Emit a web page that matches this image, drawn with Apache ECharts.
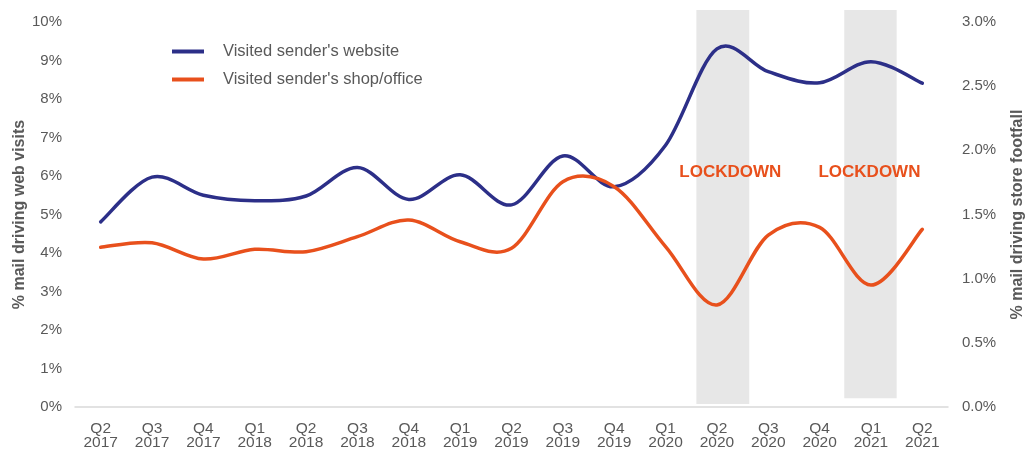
<!DOCTYPE html>
<html>
<head>
<meta charset="utf-8">
<script src="https://cdn.jsdelivr.net/npm/echarts@6/dist/echarts.min.js"></script>
<style>
html,body{margin:0;padding:0;background:#fff;}
#c{width:1027px;height:449px;}
</style>
</head>
<body>
<div id="c"></div>
<script>
const categories = ['Q2\n2017','Q3\n2017','Q4\n2017','Q1\n2018','Q2\n2018','Q3\n2018','Q4\n2018','Q1\n2019','Q2\n2019','Q3\n2019','Q4\n2019','Q1\n2020','Q2\n2020','Q3\n2020','Q4\n2020','Q1\n2021','Q2\n2021'];
const websiteVisits = [4.81, 5.97, 5.50, 5.36, 5.48, 6.22, 5.39, 6.03, 5.25, 6.52, 5.72, 6.80, 9.30, 8.71, 8.42, 8.97, 8.41];
const shopVisits = [1.245, 1.28, 1.153, 1.229, 1.21, 1.327, 1.457, 1.288, 1.237, 1.755, 1.717, 1.25, 0.795, 1.34, 1.40, 0.95, 1.385];
const leftTicks = {min: 0, max: 10, interval: 1};
const rightTicks = {min: 0, max: 3, interval: 0.5};
// lockdown shading in category-index units [from, to] and in left-axis % units [bottom, top]
const lockdownBands = [[11.6, 12.63, 0.08, 10.31], [14.48, 15.5, 0.23, 10.31]];
const lockdownLabel = 'LOCKDOWN';

const FONT = '"Liberation Sans", Arial, sans-serif';
const GRAY = '#595959';
const BLUE = '#2c2f88';
const ORANGE = '#e8501c';

// Smooth (Catmull-Rom style, like spreadsheet smoothing) curve through the points,
// positioned with the chart's own axes via api.coord.
function smoothRenderer(values, color) {
  return function (params, api) {
    if (params.dataIndex !== 0) return null;
    const pts = values.map((v, i) => api.coord([i, v]));
    const n = pts.length;
    let d = 'M' + pts[0][0] + ' ' + pts[0][1];
    for (let i = 0; i < n - 1; i++) {
      const p0 = pts[Math.max(i - 1, 0)], p1 = pts[i], p2 = pts[i + 1], p3 = pts[Math.min(i + 2, n - 1)];
      const c1x = p1[0] + (p2[0] - p0[0]) / 6, c1y = p1[1] + (p2[1] - p0[1]) / 6;
      const c2x = p2[0] - (p3[0] - p1[0]) / 6, c2y = p2[1] - (p3[1] - p1[1]) / 6;
      d += ' C' + c1x + ' ' + c1y + ' ' + c2x + ' ' + c2y + ' ' + p2[0] + ' ' + p2[1];
    }
    return {
      type: 'path',
      shape: {pathData: d},
      style: {fill: null, stroke: color, lineWidth: 3.5, lineCap: 'round', lineJoin: 'round'},
      silent: true
    };
  };
}

const chart = echarts.init(document.getElementById('c'));
chart.setOption({
  animation: false,
  textStyle: {fontFamily: FONT},
  grid: [
    {left: 75, right: 79, top: 22, bottom: 42, containLabel: false, outerBoundsMode: 'none'},
    {left: 75, right: 79, top: 10, bottom: 42, containLabel: false, outerBoundsMode: 'none'}
  ],
  legend: {
    orient: 'vertical',
    left: 167,
    top: 38,
    itemWidth: 32,
    itemHeight: 4,
    itemGap: 11,
    icon: 'rect',
    textStyle: {fontSize: 16.5, color: GRAY, fontFamily: FONT, padding: [0, 0, 0, 14]},
    data: ["Visited sender's website", "Visited sender's shop/office"]
  },
  xAxis: [
    {
      type: 'category', gridIndex: 0, data: categories, boundaryGap: true,
      axisLine: {lineStyle: {color: '#d9d9d9', width: 1.5}},
      axisTick: {show: false},
      axisLabel: {color: GRAY, fontSize: 15.5, lineHeight: 14, margin: 15, interval: 0, fontFamily: FONT}
    },
    {type: 'value', gridIndex: 1, min: -0.5, max: categories.length - 0.5, show: false}
  ],
  yAxis: [
    {
      type: 'value', gridIndex: 0, min: leftTicks.min, max: leftTicks.max, interval: leftTicks.interval,
      name: '% mail driving web visits', nameLocation: 'middle', nameGap: 47, nameRotate: 90, nameMoveOverlap: false,
      nameTextStyle: {color: GRAY, fontSize: 16, fontWeight: 'bold', fontFamily: FONT},
      axisLine: {show: false}, axisTick: {show: false}, splitLine: {show: false},
      axisLabel: {color: GRAY, fontSize: 15, margin: 13, formatter: '{value}%', fontFamily: FONT}
    },
    {
      type: 'value', gridIndex: 0, position: 'right', min: rightTicks.min, max: rightTicks.max, interval: rightTicks.interval,
      name: '% mail driving store footfall', nameLocation: 'middle', nameGap: 62, nameRotate: 90,
      nameTextStyle: {color: GRAY, fontSize: 16, fontWeight: 'bold', fontFamily: FONT},
      axisLine: {show: false}, axisTick: {show: false}, splitLine: {show: false},
      axisLabel: {color: GRAY, fontSize: 15, margin: 14, formatter: v => v.toFixed(1) + '%', fontFamily: FONT}
    },
    {type: 'value', gridIndex: 1, min: 0, max: 10.31, show: false}
  ],
  series: [
    {
      type: 'line', xAxisIndex: 1, yAxisIndex: 2, data: [], z: 0, silent: true,
      markArea: {
        silent: true,
        itemStyle: {color: '#e7e7e7'},
        label: {show: false},
        data: lockdownBands.map(b => [{coord: [b[0], b[2]]}, {coord: [b[1], b[3]]}])
      },
      markPoint: {
        symbol: 'rect', symbolSize: 0,
        label: {show: true, position: 'inside', color: ORANGE, fontSize: 17, fontWeight: 'bold', fontFamily: FONT, formatter: lockdownLabel},
        data: [{coord: [12.26, 6.1]}, {coord: [14.97, 6.1]}]
      }
    },
    {
      name: "Visited sender's website", type: 'custom', coordinateSystem: 'cartesian2d',
      xAxisIndex: 0, yAxisIndex: 0, z: 3, clip: false,
      data: websiteVisits.map((v, i) => [i, v]),
      renderItem: smoothRenderer(websiteVisits, BLUE),
      itemStyle: {color: BLUE}
    },
    {
      name: "Visited sender's shop/office", type: 'custom', coordinateSystem: 'cartesian2d',
      xAxisIndex: 0, yAxisIndex: 1, z: 3, clip: false,
      data: shopVisits.map((v, i) => [i, v]),
      renderItem: smoothRenderer(shopVisits, ORANGE),
      itemStyle: {color: ORANGE}
    }
  ]
});
</script>
</body>
</html>
